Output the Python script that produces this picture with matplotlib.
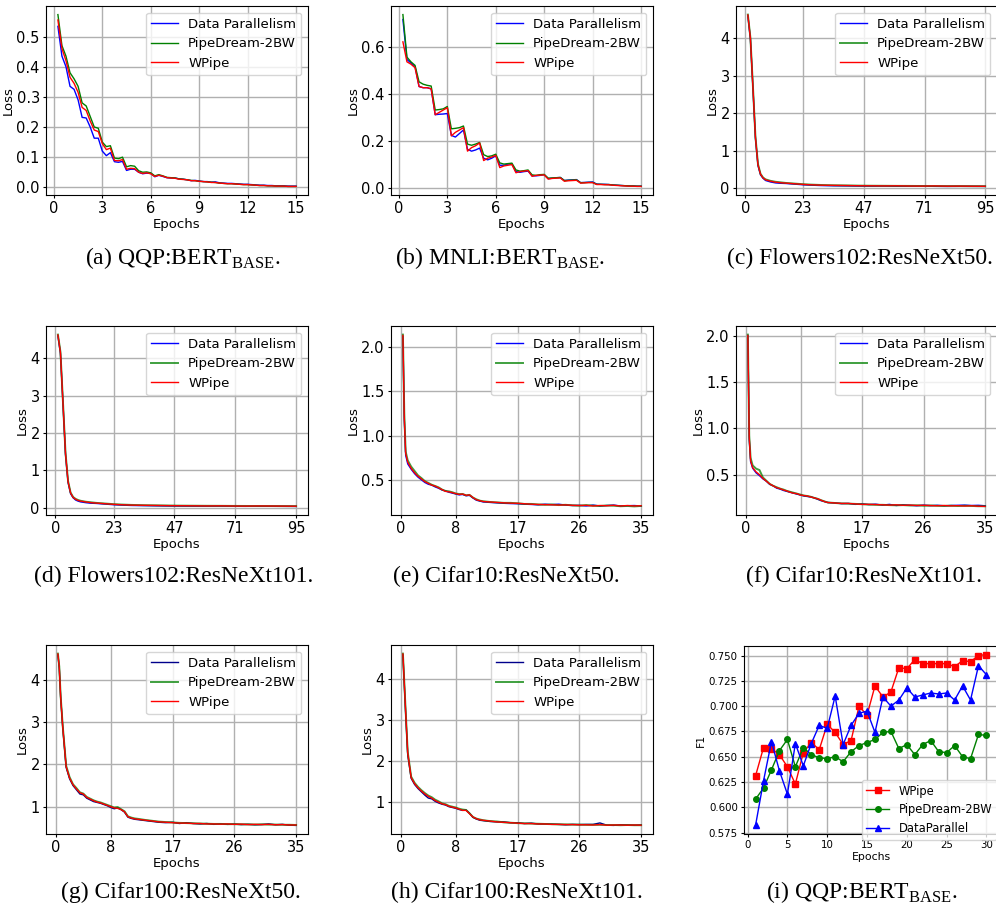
import numpy as np
import matplotlib
matplotlib.use('Agg')
import matplotlib.pyplot as plt

W, H = 996, 907

plt.rcParams['mathtext.fontset'] = 'custom'
plt.rcParams['mathtext.rm'] = 'Liberation Serif'

# ---- (a) QQP / (b) MNLI : loss every quarter epoch ----
epochs_bert = np.arange(0.25, 15.01, 0.25)

qqp_wpipe = [0.555, 0.46, 0.42, 0.365, 0.345, 0.315, 0.265, 0.255, 0.22, 0.19,
             0.185, 0.145, 0.125, 0.13, 0.089, 0.088, 0.092, 0.06, 0.063, 0.062,
             0.05, 0.046, 0.048, 0.045, 0.036, 0.04, 0.037, 0.032, 0.031, 0.03,
             0.027, 0.026, 0.025, 0.022, 0.022, 0.02, 0.019, 0.018, 0.016, 0.016,
             0.014, 0.013, 0.012, 0.012, 0.011, 0.01, 0.009, 0.009, 0.008, 0.007,
             0.006, 0.006, 0.005, 0.005, 0.004, 0.004, 0.004, 0.003, 0.003, 0.003]
qqp_pd = [0.573, 0.47, 0.435, 0.38, 0.36, 0.335, 0.28, 0.27, 0.235, 0.2,
          0.196, 0.15, 0.135, 0.138, 0.097, 0.095, 0.1, 0.068, 0.072, 0.07,
          0.055, 0.05, 0.051, 0.048, 0.038, 0.042, 0.038, 0.033, 0.032, 0.031,
          0.028, 0.027, 0.025, 0.023, 0.022, 0.02, 0.019, 0.018, 0.017, 0.016,
          0.014, 0.013, 0.012, 0.012, 0.011, 0.01, 0.009, 0.009, 0.008, 0.007,
          0.006, 0.006, 0.005, 0.005, 0.004, 0.004, 0.004, 0.003, 0.003, 0.003]
qqp_dp = [0.534, 0.435, 0.4, 0.335, 0.325, 0.29, 0.232, 0.23, 0.2, 0.163,
          0.163, 0.12, 0.105, 0.115, 0.085, 0.083, 0.086, 0.056, 0.06, 0.06,
          0.05, 0.045, 0.047, 0.046, 0.035, 0.04, 0.036, 0.032, 0.031, 0.031,
          0.028, 0.027, 0.025, 0.022, 0.023, 0.021, 0.019, 0.019, 0.017, 0.018,
          0.015, 0.014, 0.013, 0.013, 0.012, 0.011, 0.01, 0.01, 0.009, 0.008,
          0.007, 0.007, 0.006, 0.006, 0.005, 0.005, 0.005, 0.004, 0.004, 0.004]

mnli_wpipe = [0.62, 0.535, 0.525, 0.51, 0.43, 0.425, 0.425, 0.42, 0.31, 0.32,
              0.33, 0.34, 0.22, 0.235, 0.245, 0.255, 0.155, 0.17, 0.178, 0.19,
              0.115, 0.125, 0.13, 0.137, 0.085, 0.092, 0.095, 0.098, 0.063, 0.068,
              0.07, 0.072, 0.048, 0.052, 0.053, 0.054, 0.036, 0.039, 0.04, 0.041,
              0.027, 0.029, 0.03, 0.031, 0.019, 0.02, 0.021, 0.021, 0.013, 0.013,
              0.012, 0.012, 0.01, 0.009, 0.008, 0.007, 0.006, 0.006, 0.005, 0.005]
mnli_dp = [0.715, 0.545, 0.53, 0.515, 0.43, 0.425, 0.425, 0.42, 0.31, 0.312,
           0.313, 0.315, 0.222, 0.215, 0.23, 0.245, 0.163, 0.155, 0.16, 0.168,
           0.125, 0.118, 0.125, 0.135, 0.095, 0.095, 0.1, 0.1, 0.068, 0.065,
           0.068, 0.07, 0.05, 0.05, 0.052, 0.055, 0.038, 0.04, 0.042, 0.043,
           0.03, 0.032, 0.033, 0.034, 0.021, 0.022, 0.023, 0.024, 0.015, 0.014,
           0.014, 0.013, 0.011, 0.01, 0.009, 0.008, 0.007, 0.007, 0.006, 0.006]
mnli_pd = [0.736, 0.555, 0.535, 0.52, 0.45, 0.44, 0.435, 0.432, 0.33, 0.332,
           0.335, 0.345, 0.25, 0.252, 0.255, 0.262, 0.185, 0.18, 0.185, 0.192,
           0.14, 0.132, 0.135, 0.142, 0.105, 0.1, 0.102, 0.104, 0.075, 0.07,
           0.072, 0.075, 0.054, 0.052, 0.055, 0.056, 0.04, 0.041, 0.042, 0.043,
           0.03, 0.031, 0.032, 0.033, 0.021, 0.021, 0.022, 0.022, 0.014, 0.014,
           0.013, 0.013, 0.011, 0.01, 0.009, 0.008, 0.007, 0.007, 0.006, 0.006]

# ---- (c)/(d) Flowers102 ----
epochs_flowers = [1, 2, 3, 4, 5, 6, 7, 8, 9, 10, 12, 14, 16, 18, 20, 23, 26, 30, 35, 40,
                  45, 50, 55, 60, 65, 70, 75, 80, 85, 90, 95]

fl50_wpipe = [4.62, 4.0, 2.7, 1.35, 0.62, 0.37, 0.27, 0.22, 0.2, 0.18,
              0.155, 0.14, 0.13, 0.12, 0.11, 0.095, 0.085, 0.075, 0.07, 0.065,
              0.06, 0.058, 0.055, 0.058, 0.052, 0.05, 0.055, 0.048, 0.05, 0.047, 0.045]
fl50_dp = [4.6, 3.98, 2.68, 1.33, 0.6, 0.35, 0.26, 0.2, 0.18, 0.16,
           0.135, 0.125, 0.12, 0.11, 0.1, 0.085, 0.075, 0.065, 0.058, 0.055,
           0.05, 0.048, 0.05, 0.046, 0.045, 0.048, 0.044, 0.042, 0.044, 0.043, 0.042]
fl50_pd = [4.63, 4.02, 2.72, 1.37, 0.64, 0.38, 0.28, 0.23, 0.21, 0.19,
           0.165, 0.15, 0.135, 0.125, 0.115, 0.1, 0.09, 0.08, 0.072, 0.068,
           0.063, 0.06, 0.058, 0.056, 0.055, 0.053, 0.052, 0.05, 0.05, 0.048, 0.047]

fl101_wpipe = [4.62, 4.15, 2.8, 1.45, 0.7, 0.4, 0.28, 0.23, 0.2, 0.18,
               0.16, 0.14, 0.13, 0.12, 0.11, 0.095, 0.085, 0.075, 0.07, 0.065,
               0.06, 0.058, 0.055, 0.052, 0.055, 0.05, 0.048, 0.052, 0.05, 0.048, 0.045]
fl101_dp = [4.6, 4.12, 2.78, 1.42, 0.68, 0.38, 0.27, 0.21, 0.18, 0.16,
            0.14, 0.125, 0.12, 0.11, 0.1, 0.085, 0.075, 0.065, 0.06, 0.055,
            0.05, 0.048, 0.046, 0.045, 0.048, 0.044, 0.042, 0.045, 0.043, 0.042, 0.04]
fl101_pd = [4.63, 4.17, 2.82, 1.47, 0.72, 0.41, 0.29, 0.24, 0.21, 0.19,
            0.165, 0.15, 0.135, 0.125, 0.115, 0.1, 0.09, 0.08, 0.072, 0.068,
            0.063, 0.06, 0.058, 0.056, 0.055, 0.053, 0.052, 0.05, 0.05, 0.048, 0.047]

# ---- (e)-(h) Cifar ----
epochs_cifar = [0.3, 0.5, 0.7, 1.0, 1.5, 2.0, 2.5, 3.0, 3.5, 4.0,
                4.5, 5.0, 5.5, 6.0, 6.5, 7.0, 7.5, 8.0, 8.5, 9.0,
                9.5, 10.0, 10.5, 11.0, 11.5, 12.0, 13, 14, 15, 16,
                17, 18, 19, 20, 21, 22, 23, 24, 25, 26,
                27, 28, 29, 30, 31, 32, 33, 34, 35]

c10_50_wpipe = [2.13, 1.2, 0.8, 0.7, 0.63, 0.58, 0.54, 0.51, 0.48, 0.46,
                0.44, 0.43, 0.41, 0.39, 0.37, 0.365, 0.355, 0.345, 0.335, 0.34,
                0.325, 0.33, 0.3, 0.275, 0.265, 0.255, 0.25, 0.245, 0.24, 0.237,
                0.235, 0.23, 0.225, 0.222, 0.22, 0.218, 0.215, 0.217, 0.212, 0.21,
                0.212, 0.205, 0.21, 0.208, 0.212, 0.205, 0.21, 0.205, 0.208]
c10_50_dp = [2.12, 1.18, 0.78, 0.68, 0.62, 0.57, 0.53, 0.5, 0.47, 0.45,
             0.44, 0.42, 0.405, 0.385, 0.375, 0.36, 0.35, 0.34, 0.33, 0.335,
             0.32, 0.325, 0.295, 0.27, 0.26, 0.25, 0.245, 0.24, 0.235, 0.232,
             0.23, 0.225, 0.222, 0.218, 0.225, 0.22, 0.225, 0.215, 0.21, 0.212,
             0.205, 0.215, 0.205, 0.21, 0.215, 0.205, 0.208, 0.21, 0.205]
c10_50_pd = [2.14, 1.25, 0.82, 0.72, 0.65, 0.6, 0.55, 0.52, 0.485, 0.465,
             0.445, 0.43, 0.415, 0.39, 0.375, 0.37, 0.36, 0.345, 0.34, 0.34,
             0.325, 0.33, 0.3, 0.28, 0.265, 0.258, 0.25, 0.245, 0.24, 0.24,
             0.235, 0.228, 0.228, 0.222, 0.218, 0.222, 0.215, 0.218, 0.212, 0.208,
             0.215, 0.208, 0.205, 0.21, 0.208, 0.202, 0.205, 0.2, 0.205]

c10_101_wpipe = [2.0, 0.9, 0.65, 0.575, 0.53, 0.5, 0.46, 0.43, 0.4, 0.38,
                 0.36, 0.35, 0.335, 0.325, 0.31, 0.3, 0.295, 0.28, 0.275, 0.27,
                 0.26, 0.25, 0.24, 0.225, 0.21, 0.2, 0.195, 0.19, 0.19, 0.185,
                 0.18, 0.18, 0.178, 0.175, 0.172, 0.175, 0.17, 0.172, 0.168, 0.17,
                 0.167, 0.165, 0.168, 0.164, 0.166, 0.162, 0.165, 0.16, 0.158]
c10_101_dp = [2.0, 0.88, 0.64, 0.57, 0.52, 0.49, 0.455, 0.43, 0.395, 0.38,
              0.355, 0.345, 0.33, 0.32, 0.31, 0.3, 0.29, 0.28, 0.27, 0.265,
              0.26, 0.25, 0.235, 0.22, 0.21, 0.2, 0.195, 0.188, 0.19, 0.18,
              0.185, 0.178, 0.182, 0.172, 0.18, 0.168, 0.175, 0.17, 0.165, 0.172,
              0.166, 0.17, 0.165, 0.168, 0.17, 0.172, 0.168, 0.17, 0.165]
c10_101_pd = [2.01, 0.92, 0.68, 0.6, 0.565, 0.55, 0.47, 0.435, 0.4, 0.38,
              0.365, 0.35, 0.34, 0.325, 0.315, 0.305, 0.295, 0.285, 0.275, 0.27,
              0.262, 0.25, 0.24, 0.225, 0.212, 0.2, 0.195, 0.19, 0.188, 0.185,
              0.182, 0.178, 0.175, 0.175, 0.172, 0.17, 0.172, 0.168, 0.17, 0.165,
              0.168, 0.165, 0.163, 0.166, 0.162, 0.165, 0.163, 0.16, 0.16]

c100_50_wpipe = [4.62, 4.3, 3.6, 2.9, 1.95, 1.68, 1.52, 1.42, 1.33, 1.3,
                 1.22, 1.18, 1.14, 1.11, 1.09, 1.06, 1.03, 1.0, 0.97, 0.96,
                 0.93, 0.88, 0.76, 0.73, 0.71, 0.7, 0.68, 0.66, 0.64, 0.63,
                 0.62, 0.61, 0.61, 0.6, 0.6, 0.59, 0.59, 0.585, 0.59, 0.58,
                 0.585, 0.575, 0.58, 0.575, 0.58, 0.57, 0.575, 0.565, 0.565]
c100_50_dp = [4.6, 4.28, 3.58, 2.88, 1.93, 1.66, 1.5, 1.4, 1.3, 1.28,
              1.2, 1.16, 1.12, 1.1, 1.08, 1.05, 1.02, 0.98, 0.95, 0.97,
              0.93, 0.87, 0.75, 0.72, 0.7, 0.69, 0.67, 0.65, 0.63, 0.62,
              0.63, 0.6, 0.62, 0.6, 0.59, 0.6, 0.58, 0.59, 0.58, 0.585,
              0.575, 0.58, 0.57, 0.575, 0.59, 0.57, 0.58, 0.56, 0.555]
c100_50_pd = [4.63, 4.32, 3.62, 2.92, 1.97, 1.7, 1.53, 1.44, 1.34, 1.31,
              1.23, 1.19, 1.15, 1.12, 1.1, 1.07, 1.04, 1.01, 0.98, 0.99,
              0.94, 0.89, 0.77, 0.74, 0.72, 0.71, 0.685, 0.665, 0.645, 0.635,
              0.625, 0.615, 0.61, 0.605, 0.6, 0.595, 0.59, 0.59, 0.585, 0.585,
              0.58, 0.58, 0.575, 0.58, 0.575, 0.575, 0.57, 0.57, 0.565]

c100_101_wpipe = [4.6, 3.9, 3.2, 2.2, 1.6, 1.45, 1.35, 1.27, 1.2, 1.14,
                  1.1, 1.04, 1.0, 0.96, 0.94, 0.9, 0.88, 0.86, 0.83, 0.8,
                  0.8, 0.72, 0.64, 0.6, 0.57, 0.56, 0.54, 0.52, 0.51, 0.5,
                  0.49, 0.48, 0.48, 0.47, 0.47, 0.46, 0.46, 0.455, 0.455, 0.45,
                  0.45, 0.445, 0.455, 0.44, 0.445, 0.445, 0.44, 0.445, 0.44]
c100_101_dp = [4.58, 3.85, 3.15, 2.15, 1.58, 1.43, 1.33, 1.25, 1.17, 1.1,
               1.08, 1.02, 0.98, 0.95, 0.93, 0.89, 0.87, 0.85, 0.82, 0.8,
               0.81, 0.73, 0.63, 0.59, 0.56, 0.55, 0.53, 0.52, 0.52, 0.5,
               0.5, 0.48, 0.49, 0.47, 0.47, 0.465, 0.46, 0.45, 0.46, 0.455,
               0.46, 0.46, 0.495, 0.44, 0.435, 0.45, 0.445, 0.44, 0.445]
c100_101_pd = [4.61, 3.92, 3.22, 2.22, 1.62, 1.47, 1.37, 1.29, 1.22, 1.16,
               1.12, 1.06, 1.02, 0.97, 0.95, 0.91, 0.89, 0.87, 0.84, 0.82,
               0.81, 0.73, 0.64, 0.6, 0.58, 0.56, 0.54, 0.53, 0.51, 0.5,
               0.49, 0.485, 0.48, 0.475, 0.47, 0.465, 0.46, 0.46, 0.455, 0.455,
               0.45, 0.45, 0.45, 0.445, 0.445, 0.44, 0.445, 0.44, 0.44]

# ---- (i) QQP F1 per epoch ----
epochs_f1 = list(range(1, 31))
f1_wpipe = [0.631, 0.659, 0.658, 0.652, 0.640, 0.623, 0.654, 0.664, 0.657, 0.682,
            0.674, 0.662, 0.666, 0.700, 0.691, 0.720, 0.709, 0.714, 0.738, 0.737,
            0.746, 0.742, 0.742, 0.742, 0.742, 0.739, 0.745, 0.744, 0.750, 0.751]
f1_pd = [0.608, 0.619, 0.637, 0.656, 0.667, 0.640, 0.659, 0.652, 0.649, 0.648,
         0.650, 0.645, 0.655, 0.661, 0.664, 0.667, 0.674, 0.675, 0.658, 0.662,
         0.652, 0.662, 0.666, 0.655, 0.654, 0.661, 0.650, 0.648, 0.672, 0.671]
f1_dp = [0.582, 0.626, 0.665, 0.636, 0.613, 0.663, 0.641, 0.663, 0.681, 0.678,
         0.710, 0.662, 0.681, 0.693, 0.695, 0.674, 0.709, 0.700, 0.706, 0.718,
         0.709, 0.711, 0.713, 0.712, 0.713, 0.706, 0.720, 0.706, 0.740, 0.731]

captions = [
    (183, 258, r'(a) QQP:BERT$_{\mathrm{BASE}}$.'),
    (500, 258, r'(b) MNLI:BERT$_{\mathrm{BASE}}$.'),
    (860, 258, '(c) Flowers102:ResNeXt50.'),
    (174, 576, '(d) Flowers102:ResNeXt101.'),
    (506, 576, '(e) Cifar10:ResNeXt50.'),
    (864, 576, '(f) Cifar10:ResNeXt101.'),
    (181, 892, '(g) Cifar100:ResNeXt50.'),
    (517, 892, '(h) Cifar100:ResNeXt101.'),
    (862, 892, r'(i) QQP:BERT$_{\mathrm{BASE}}$.'),
]


def place(fig, left, top, right, bottom):
    return fig.add_axes([left / W, 1 - bottom / H, (right - left) / W, (bottom - top) / H])


def loss_panel(ax, x, dp, pd, wp, xticks, yticks, dp_color='blue', soft=False):
    ax.plot(x, dp, color=dp_color, lw=1.0, label='Data Parallelism')
    ax.plot(x, pd, color='green', lw=1.4 if soft else 1.0,
            alpha=0.75 if soft else 1.0, label='PipeDream-2BW')
    ax.plot(x, wp, color='red', lw=1.0, label='WPipe')
    ax.set_xticks(xticks)
    ax.set_yticks(yticks)
    ax.grid(True, color='#b0b0b0', lw=1.0)
    ax.tick_params(labelsize=10.5, length=2.5, pad=2, width=0.8)
    ax.set_xlabel('Epochs', fontsize=9.5, labelpad=1)
    ax.set_ylabel('Loss', fontsize=9.5, labelpad=1)
    ax.legend(loc='upper right', fontsize=9.5)


fig = plt.figure(figsize=(W / 100, H / 100), dpi=100)

ticks_bert = [0, 3, 6, 9, 12, 15]
ticks_flowers = [0, 23, 47, 71, 95]
ticks_cifar = [0, 8, 17, 26, 35]

ax = place(fig, 46, 6, 308, 195)
loss_panel(ax, epochs_bert, qqp_dp, qqp_pd, qqp_wpipe, ticks_bert,
           [0.0, 0.1, 0.2, 0.3, 0.4, 0.5])
ax = place(fig, 391, 6, 653, 195)
loss_panel(ax, epochs_bert, mnli_dp, mnli_pd, mnli_wpipe, ticks_bert,
           [0.0, 0.2, 0.4, 0.6])
ax = place(fig, 736, 6, 997, 195)
loss_panel(ax, epochs_flowers, fl50_dp, fl50_pd, fl50_wpipe, ticks_flowers,
           [0, 1, 2, 3, 4], soft=True)

ax = place(fig, 46, 326, 308, 515)
loss_panel(ax, epochs_flowers, fl101_dp, fl101_pd, fl101_wpipe, ticks_flowers,
           [0, 1, 2, 3, 4], soft=True)
ax = place(fig, 391, 326, 653, 515)
loss_panel(ax, epochs_cifar, c10_50_dp, c10_50_pd, c10_50_wpipe, ticks_cifar,
           [0.5, 1.0, 1.5, 2.0], soft=True)
ax = place(fig, 736, 326, 997, 515)
loss_panel(ax, epochs_cifar, c10_101_dp, c10_101_pd, c10_101_wpipe, ticks_cifar,
           [0.5, 1.0, 1.5, 2.0], soft=True)

ax = place(fig, 46, 645, 308, 834)
loss_panel(ax, epochs_cifar, c100_50_dp, c100_50_pd, c100_50_wpipe, ticks_cifar,
           [1, 2, 3, 4], dp_color='darkblue', soft=True)
ax = place(fig, 391, 645, 653, 834)
loss_panel(ax, epochs_cifar, c100_101_dp, c100_101_pd, c100_101_wpipe, ticks_cifar,
           [1, 2, 3, 4], dp_color='darkblue', soft=True)

# F1 panel
ax = place(fig, 744, 646, 998, 834)
ax.plot(epochs_f1, f1_wpipe, color='red', marker='s', ms=4, lw=1.0, label='WPipe')
ax.plot(epochs_f1, f1_pd, color='green', marker='o', ms=4, lw=1.0, label='PipeDream-2BW')
ax.plot(epochs_f1, f1_dp, color='blue', marker='^', ms=4, lw=1.0, label='DataParallel')
ax.set_xticks([0, 5, 10, 15, 20, 25, 30])
ax.set_yticks([0.575, 0.600, 0.625, 0.650, 0.675, 0.700, 0.725, 0.750])
ax.grid(True, color='#b0b0b0', lw=1.0)
ax.tick_params(labelsize=7.4, length=2.5, pad=2, width=0.8)
ax.set_xlabel('Epochs', fontsize=7.8, labelpad=1)
ax.set_ylabel('F1', fontsize=7.8, labelpad=2)
ax.legend(loc='lower right', bbox_to_anchor=(0.995, -0.03), borderaxespad=0,
          fontsize=8.3)

for cx, cy, text in captions:
    fig.text(cx / W, 1 - cy / H, text, ha='center', va='center',
             family='Liberation Serif', fontsize=17)

fig.savefig('out.png', dpi=100)
